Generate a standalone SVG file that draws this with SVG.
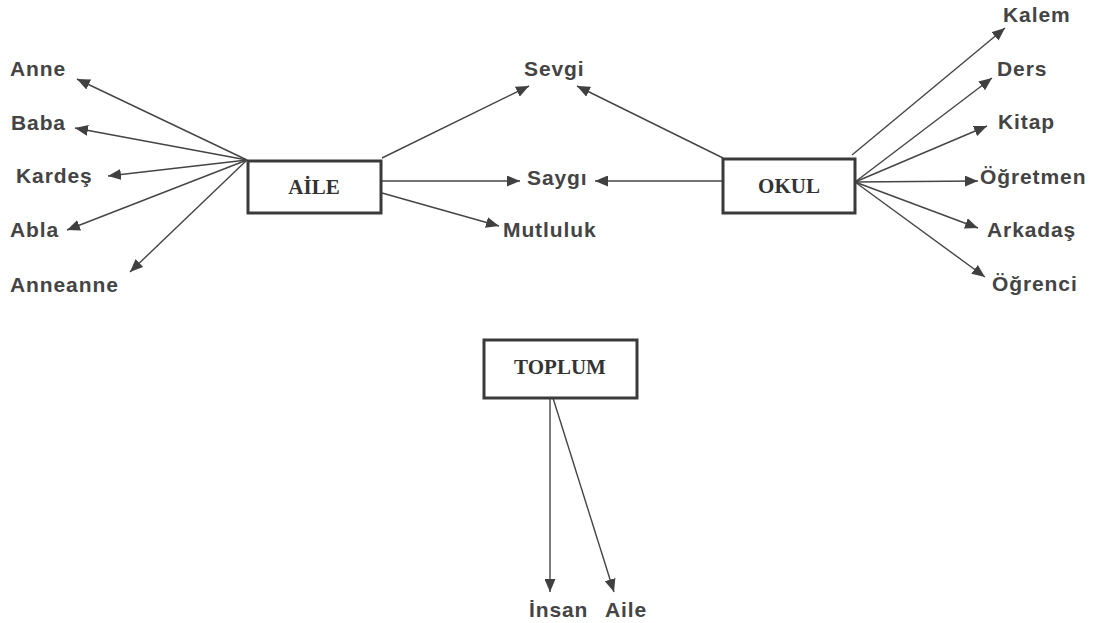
<svg xmlns="http://www.w3.org/2000/svg" width="1095" height="623" viewBox="0 0 1095 623">
  <style>
    .box { fill: #ffffff; stroke: #3a3a3a; stroke-width: 3; }
    .title { font-family: "Liberation Serif", "Times New Roman", serif; font-weight: bold; font-size: 21px; fill: #333333; text-anchor: middle; }
    .lbl { font-family: "Liberation Sans", Arial, sans-serif; font-weight: bold; font-size: 21px; fill: #444444; letter-spacing: 0.9px; }
    .edge { stroke: #454545; stroke-width: 1.4; fill: none; marker-end: url(#arrow); }
  </style>
  <defs>
    <marker id="arrow" viewBox="0 0 13 11" refX="13" refY="5.5" markerWidth="13" markerHeight="11" markerUnits="userSpaceOnUse" orient="auto">
      <path d="M0,0 L13,5.5 L0,11 Z" fill="#404040"/>
    </marker>
  </defs>

  <!-- connectors -->
  <g id="connectors">
    <!-- AİLE fan to the left -->
    <line class="edge" x1="247" y1="160" x2="77" y2="79"/>
    <line class="edge" x1="247" y1="160" x2="75" y2="128"/>
    <line class="edge" x1="247" y1="160" x2="108" y2="176"/>
    <line class="edge" x1="247" y1="160" x2="67" y2="230"/>
    <line class="edge" x1="247" y1="160" x2="130" y2="272"/>
    <!-- AİLE to the middle -->
    <line class="edge" x1="382" y1="158" x2="529" y2="86"/>
    <line class="edge" x1="382" y1="181" x2="520" y2="181"/>
    <line class="edge" x1="382" y1="193" x2="499" y2="226"/>
    <!-- OKUL to the middle -->
    <line class="edge" x1="723" y1="158" x2="577" y2="86"/>
    <line class="edge" x1="723" y1="181" x2="595" y2="181"/>
    <!-- OKUL fan to the right -->
    <line class="edge" x1="852" y1="155" x2="1005" y2="28"/>
    <line class="edge" x1="855" y1="182" x2="992" y2="78"/>
    <line class="edge" x1="855" y1="182" x2="987" y2="126"/>
    <line class="edge" x1="855" y1="182" x2="978" y2="181"/>
    <line class="edge" x1="855" y1="182" x2="978" y2="228"/>
    <line class="edge" x1="855" y1="182" x2="985" y2="277"/>
    <!-- TOPLUM downwards -->
    <line class="edge" x1="550" y1="398" x2="550" y2="592"/>
    <line class="edge" x1="553" y1="398" x2="614" y2="592"/>
  </g>

  <!-- central nodes -->
  <g id="aile">
    <rect class="box" x="248" y="161" width="133" height="52"/>
    <text class="title" x="314" y="194">AİLE</text>
  </g>
  <g id="okul">
    <rect class="box" x="723" y="159" width="132" height="54"/>
    <text class="title" x="789" y="193">OKUL</text>
  </g>
  <g id="toplum">
    <rect class="box" x="484" y="340" width="153" height="58"/>
    <text class="title" x="560" y="374">TOPLUM</text>
  </g>

  <!-- AİLE leaves -->
  <g id="anne"><text class="lbl" x="10" y="76">Anne</text></g>
  <g id="baba"><text class="lbl" x="11" y="130">Baba</text></g>
  <g id="kardes"><text class="lbl" x="16" y="183">Kardeş</text></g>
  <g id="abla"><text class="lbl" x="10" y="237">Abla</text></g>
  <g id="anneanne"><text class="lbl" x="10" y="292">Anneanne</text></g>

  <!-- shared leaves -->
  <g id="sevgi"><text class="lbl" x="524" y="76">Sevgi</text></g>
  <g id="saygi"><text class="lbl" x="527" y="185">Saygı</text></g>
  <g id="mutluluk"><text class="lbl" x="503" y="237">Mutluluk</text></g>

  <!-- OKUL leaves -->
  <g id="kalem"><text class="lbl" x="1003" y="22">Kalem</text></g>
  <g id="ders"><text class="lbl" x="997" y="76">Ders</text></g>
  <g id="kitap"><text class="lbl" x="998" y="129">Kitap</text></g>
  <g id="ogretmen"><text class="lbl" x="980" y="184">Öğretmen</text></g>
  <g id="arkadas"><text class="lbl" x="987" y="237">Arkadaş</text></g>
  <g id="ogrenci"><text class="lbl" x="992" y="291">Öğrenci</text></g>

  <!-- TOPLUM leaves -->
  <g id="insan"><text class="lbl" x="529" y="617">İnsan</text></g>
  <g id="aile-leaf"><text class="lbl" x="605" y="617">Aile</text></g>
</svg>
